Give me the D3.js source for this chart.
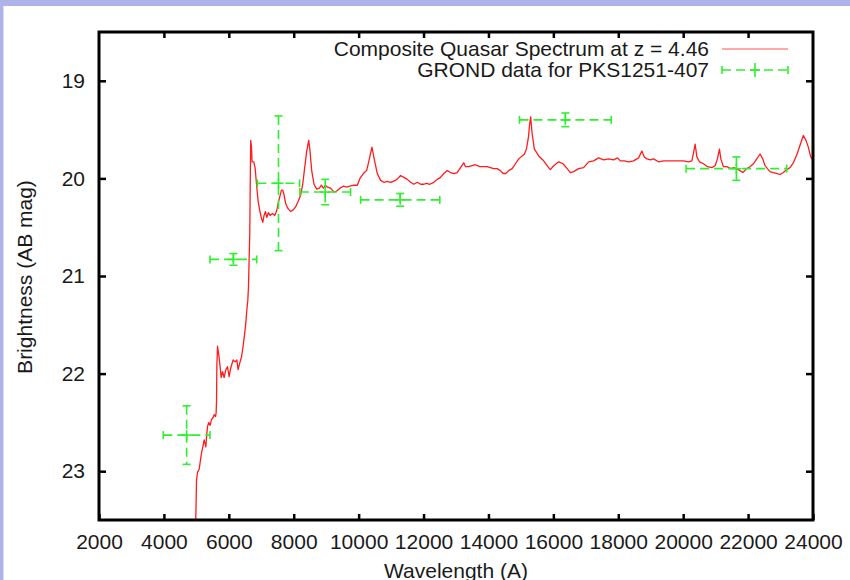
<!DOCTYPE html>
<html>
<head>
<meta charset="utf-8">
<title>Composite Quasar Spectrum vs GROND</title>
<script src="https://d3js.org/d3.v7.min.js"></script>
<style>
  body { margin: 0; }
  text { font-family: "Liberation Sans", Arial, sans-serif; }
</style>
</head>
<body>
<svg width="850" height="580"></svg>
<script>
// composite quasar spectrum, z = 4.46
const specWave = [4975, 4994, 5006, 5037, 5086, 5117, 5160, 5200, 5240, 5292, 5323, 5345, 5385, 5425, 5468, 5517, 5548, 5591, 5609, 5622,
  5631, 5652, 5692, 5732, 5763, 5806, 5855, 5908, 5960, 6009, 6062, 6132, 6194, 6246, 6286, 6338, 6391, 6440, 6492, 6532,
  6563, 6585, 6606, 6625, 6646, 6655, 6665, 6675, 6698, 6717, 6769, 6809, 6862, 6902, 6954, 7006, 7046, 7086, 7129, 7169,
  7221, 7271, 7345, 7415, 7477, 7517, 7569, 7622, 7662, 7702, 7754, 7825, 7908, 7991, 8062, 8132, 8215, 8277, 8338, 8400,
  8462, 8502, 8554, 8625, 8708, 8791, 8852, 8914, 8975, 9037, 9138, 9240, 9323, 9425, 9529, 9631, 9732, 9855, 9960, 10040,
  10145, 10246, 10317, 10410, 10492, 10575, 10677, 10778, 10883, 10985, 11138, 11209, 11292, 11394, 11498, 11600, 11702, 11806, 11908, 12009,
  12092, 12194, 12317, 12422, 12523, 12625, 12729, 12831, 12932, 13037, 13138, 13240, 13292, 13394, 13498, 13600, 13732, 13855, 13960, 14062,
  14163, 14268, 14369, 14452, 14532, 14625, 14729, 14831, 14932, 15037, 15108, 15169, 15231, 15271, 15300, 15345, 15415, 15548, 15701, 15855,
  15908, 16009, 16163, 16298, 16400, 16523, 16625, 16778, 16932, 17086, 17240, 17394, 17548, 17702, 17855, 17978, 18062, 18185, 18317, 18471,
  18625, 18729, 18800, 18883, 18985, 19086, 19240, 19394, 19548, 19702, 19855, 20009, 20163, 20268, 20317, 20369, 20422, 20502, 20625, 20748,
  20883, 20985, 21055, 21117, 21160, 21240, 21345, 21468, 21569, 21701, 21837, 21960, 22062, 22163, 22268, 22369, 22452, 22523, 22594, 22677,
  22778, 22901, 22985, 23086, 23191, 23292, 23394, 23498, 23600, 23702, 23785, 23855, 23929, 23991];
const specMag = [23.60, 23.29, 23.09, 23.01, 22.98, 22.91, 22.81, 22.75, 22.68, 22.75, 22.61, 22.54, 22.50, 22.53, 22.47, 22.45, 22.42, 22.44, 22.40, 22.27,
  21.93, 21.72, 21.81, 21.93, 22.04, 21.98, 22.04, 21.96, 21.93, 22.03, 21.94, 21.86, 21.88, 21.86, 21.96, 21.89, 21.83, 21.72, 21.58, 21.45,
  21.32, 21.25, 21.11, 20.84, 20.56, 20.23, 19.89, 19.61, 19.68, 19.83, 19.83, 19.89, 20.09, 20.23, 20.33, 20.41, 20.45, 20.38, 20.34, 20.40,
  20.35, 20.38, 20.36, 20.38, 20.33, 20.26, 20.19, 20.12, 20.12, 20.17, 20.26, 20.31, 20.34, 20.32, 20.29, 20.24, 20.17, 20.06, 19.89, 19.72,
  19.61, 19.72, 19.92, 20.06, 20.11, 20.10, 20.07, 20.10, 20.07, 20.09, 20.10, 20.14, 20.13, 20.10, 20.08, 20.09, 20.08, 20.07, 20.07, 20.00,
  19.95, 19.92, 19.82, 19.68, 19.82, 19.95, 20.02, 20.04, 20.03, 20.04, 20.02, 20.00, 19.97, 19.99, 20.01, 20.04, 20.06, 20.04, 20.06, 20.06,
  20.05, 20.06, 20.04, 20.01, 19.99, 19.95, 19.92, 19.94, 19.95, 19.94, 19.89, 19.84, 19.88, 19.88, 19.87, 19.86, 19.88, 19.88, 19.88, 19.89,
  19.90, 19.90, 19.92, 19.95, 19.95, 19.92, 19.90, 19.85, 19.80, 19.77, 19.75, 19.70, 19.58, 19.44, 19.37, 19.54, 19.70, 19.77, 19.82, 19.89,
  19.91, 19.87, 19.83, 19.85, 19.89, 19.94, 19.93, 19.90, 19.89, 19.83, 19.82, 19.79, 19.81, 19.80, 19.81, 19.79, 19.82, 19.82, 19.83, 19.82,
  19.79, 19.72, 19.78, 19.80, 19.81, 19.80, 19.83, 19.82, 19.82, 19.82, 19.82, 19.82, 19.83, 19.82, 19.74, 19.65, 19.78, 19.83, 19.85, 19.88,
  19.89, 19.87, 19.80, 19.70, 19.80, 19.88, 19.88, 19.90, 19.89, 19.91, 19.94, 19.90, 19.88, 19.85, 19.80, 19.75, 19.80, 19.87, 19.90, 19.93,
  19.94, 19.95, 19.96, 19.94, 19.91, 19.89, 19.84, 19.76, 19.66, 19.56, 19.61, 19.68, 19.78, 19.81];

// GROND photometry for PKS1251-407
const grondWave = [4700, 6140, 7530, 8970, 11280, 16370, 21640];
const grondWaveErr = [720, 720, 650, 780, 1220, 1415, 1550];
const grondMag = [22.63, 20.83, 20.05, 20.14, 20.22, 19.40, 19.90];
const grondMagErr = [0.30, 0.06, 0.69, 0.13, 0.065, 0.07, 0.12];

const xTicks = [2000, 4000, 6000, 8000, 10000, 12000, 14000, 16000, 18000, 20000, 22000, 24000];
const yTicks = [19, 20, 21, 22, 23];

const svg = d3.select("svg");
const width = +svg.attr("width");
const height = +svg.attr("height");
const fontSize = 21;

// lavender frame
svg.append("rect").attr("width", width).attr("height", height).attr("fill", "#aeb4ea");
svg.append("rect").attr("x", 3.5).attr("y", 6).attr("width", width).attr("height", height).attr("fill", "#fff");

const plotL = 99, plotR = 813, plotT = 32, plotB = 520;
const x = d3.scaleLinear().domain([2000, 24000]).range([plotL, plotR]);
const y = d3.scaleLinear().domain([18.5, 23.5]).range([plotT, plotB]);

const green = "#2ef02e";
const tickStyle = g => {
  g.select(".domain").remove();
  g.selectAll(".tick line").attr("stroke", "#000").attr("stroke-width", 2.5);
  g.selectAll(".tick text").attr("fill", "#1a1a1a").attr("font-size", fontSize);
};

svg.append("g").attr("transform", `translate(0,${plotB})`)
  .call(d3.axisBottom(x).tickValues(xTicks).tickFormat(d3.format("d")).tickSizeInner(-6).tickSizeOuter(0).tickPadding(14))
  .call(tickStyle);
svg.append("g").attr("transform", `translate(0,${plotT})`)
  .call(d3.axisTop(x).tickValues(xTicks.slice(1, -1)).tickFormat("").tickSizeInner(-6).tickSizeOuter(0))
  .call(tickStyle);
svg.append("g").attr("transform", `translate(${plotL},0)`)
  .call(d3.axisLeft(y).tickValues(yTicks).tickFormat(d3.format("d")).tickSizeInner(-7).tickSizeOuter(0).tickPadding(14))
  .call(tickStyle);
svg.append("g").attr("transform", `translate(${plotR},0)`)
  .call(d3.axisRight(y).tickValues(yTicks).tickFormat("").tickSizeInner(-7).tickSizeOuter(0))
  .call(tickStyle);

// clip to plot area
svg.append("clipPath").attr("id", "plotclip")
  .append("rect").attr("x", plotL).attr("y", plotT).attr("width", plotR - plotL).attr("height", plotB - plotT);

const spectrum = specWave.map((w, i) => [w, specMag[i]]);
svg.append("path")
  .datum(spectrum)
  .attr("clip-path", "url(#plotclip)")
  .attr("fill", "none")
  .attr("stroke", "#ff1c1c")
  .attr("stroke-width", 1.3)
  .attr("stroke-linejoin", "round")
  .attr("d", d3.line().x(d => x(d[0])).y(d => y(d[1])));

// error bars
const grond = grondWave.map((w, i) => ({ w, we: grondWaveErr[i], m: grondMag[i], me: grondMagErr[i] }));
const eb = svg.append("g").attr("stroke", green).attr("stroke-width", 1.6).attr("fill", "none");
const bars = eb.selectAll("g").data(grond).join("g");
bars.append("line").attr("stroke-dasharray", "9,5")
  .attr("x1", d => x(d.w - d.we)).attr("x2", d => x(d.w + d.we))
  .attr("y1", d => y(d.m)).attr("y2", d => y(d.m));
bars.append("line").attr("stroke-dasharray", "9,5")
  .attr("x1", d => x(d.w)).attr("x2", d => x(d.w))
  .attr("y1", d => y(d.m - d.me)).attr("y2", d => y(d.m + d.me));
// caps
bars.append("line").attr("x1", d => x(d.w - d.we)).attr("x2", d => x(d.w - d.we))
  .attr("y1", d => y(d.m) - 4).attr("y2", d => y(d.m) + 4);
bars.append("line").attr("x1", d => x(d.w + d.we)).attr("x2", d => x(d.w + d.we))
  .attr("y1", d => y(d.m) - 4).attr("y2", d => y(d.m) + 4);
bars.append("line").attr("x1", d => x(d.w) - 4).attr("x2", d => x(d.w) + 4)
  .attr("y1", d => y(d.m - d.me)).attr("y2", d => y(d.m - d.me));
bars.append("line").attr("x1", d => x(d.w) - 4).attr("x2", d => x(d.w) + 4)
  .attr("y1", d => y(d.m + d.me)).attr("y2", d => y(d.m + d.me));
// solid centre cross
bars.append("line").attr("x1", d => x(d.w) - 5).attr("x2", d => x(d.w) + 5)
  .attr("y1", d => y(d.m)).attr("y2", d => y(d.m));
bars.append("line").attr("x1", d => x(d.w)).attr("x2", d => x(d.w))
  .attr("y1", d => y(d.m) - 5).attr("y2", d => y(d.m) + 5);

// border
svg.append("rect").attr("x", plotL).attr("y", plotT).attr("width", plotR - plotL).attr("height", plotB - plotT)
  .attr("fill", "none").attr("stroke", "#000").attr("stroke-width", 3);

// legend
const lg = svg.append("g").attr("font-size", fontSize).attr("fill", "#1a1a1a").attr("text-anchor", "end");
lg.append("text").attr("x", 709).attr("y", 56).text("Composite Quasar Spectrum at z = 4.46");
lg.append("text").attr("x", 709).attr("y", 77).text("GROND data for PKS1251-407");
svg.append("line").attr("x1", 722).attr("x2", 788).attr("y1", 49).attr("y2", 49)
  .attr("stroke", "#ff8c8c").attr("stroke-width", 1.5);
const le = svg.append("g").attr("stroke", green).attr("stroke-width", 1.6);
le.append("line").attr("x1", 722).attr("x2", 788).attr("y1", 70).attr("y2", 70).attr("stroke-dasharray", "9,5");
le.append("line").attr("x1", 722).attr("x2", 722).attr("y1", 66).attr("y2", 74);
le.append("line").attr("x1", 788).attr("x2", 788).attr("y1", 66).attr("y2", 74);
le.append("line").attr("x1", 755).attr("x2", 755).attr("y1", 63).attr("y2", 77);
le.append("line").attr("x1", 750).attr("x2", 760).attr("y1", 70).attr("y2", 70);

// axis titles
svg.append("text").attr("x", 456).attr("y", 578).attr("text-anchor", "middle")
  .attr("font-size", fontSize).attr("fill", "#1a1a1a").text("Wavelength (A)");
svg.append("text").attr("transform", "translate(32,277) rotate(-90)").attr("text-anchor", "middle")
  .attr("font-size", fontSize).attr("fill", "#1a1a1a").text("Brightness (AB mag)");
</script>
</body>
</html>
